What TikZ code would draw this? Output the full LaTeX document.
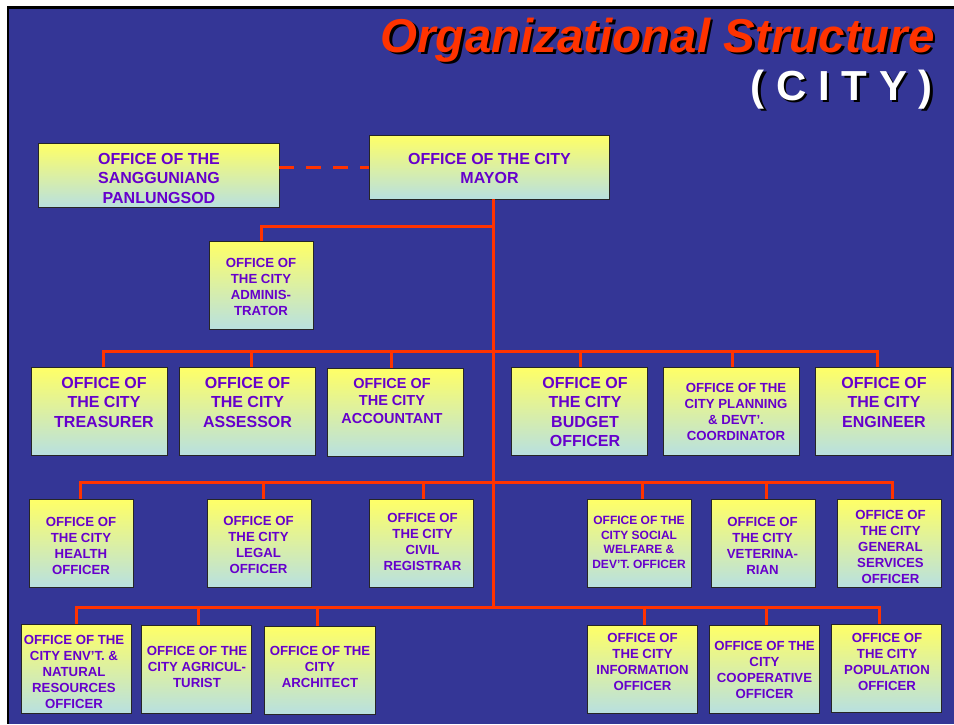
\documentclass[tikz,border=0pt]{standalone}
\usepackage{fontspec}
\setmainfont{Liberation Sans}
\definecolor{bgblue}{RGB}{52,54,150}
\definecolor{boxtop}{RGB}{255,255,102}
\definecolor{boxbot}{RGB}{184,224,224}
\definecolor{txt}{RGB}{102,0,204}
\definecolor{lin}{RGB}{255,51,0}
\definecolor{titlered}{RGB}{255,51,0}
\newcommand{\shadowed}[2]{\makebox[0pt][l]{\hspace*{#1}\raisebox{-#1}{\color{black}#2}}#2}
\tikzset{
  obox/.style={rectangle, draw=black!85, line width=0.8pt, top color=boxtop, bottom color=boxbot, inner sep=0pt},
  otext/.style={text=txt, align=center, inner sep=0pt, anchor=north},
  tA/.style={otext, font=\fontsize{16}{19.5}\selectfont\bfseries},
  tB/.style={otext, font=\fontsize{13.2}{16}\selectfont\bfseries},
  tC/.style={otext, font=\fontsize{14.5}{17.5}\selectfont\bfseries},
  tD/.style={otext, font=\fontsize{12}{14.7}\selectfont\bfseries},
  conn/.style={draw=lin, line width=3pt, line join=miter},
}
\newcommand{\obx}[5]{\node[obox, minimum width=#4pt, minimum height=#5pt] (#1) at (#2,#3) {};}
\begin{document}
\begin{tikzpicture}[x=1pt,y=-1pt]
\useasboundingbox (0,0) rectangle (954,724);
\fill[white] (0,0) rectangle (954,724);
\fill[black] (7,6) rectangle (954,724);
\fill[bgblue] (9,9) rectangle (954,724);

% title
\node[anchor=base east, inner sep=0pt, text=titlered, font=\fontsize{47.5}{50}\selectfont\bfseries\itshape] (title) at (935,52) {\shadowed{2.5pt}{Organizational Structure}};
\node[anchor=base east, inner sep=0pt, text=white, font=\fontsize{42}{44}\selectfont\bfseries] (city) at (933,100) {\shadowed{2.5pt}{( C I T Y )}};

% boxes
\obx{sang}{158.5}{175}{241}{64}
\obx{mayor}{489}{167}{240}{64}
\obx{admin}{261}{285}{104}{88}
\obx{treas}{99}{411}{136}{88}
\obx{assess}{247}{411}{136}{88}
\obx{acct}{395}{412}{136}{88}
\obx{budget}{579}{411}{136}{88}
\obx{plan}{731}{411}{136}{88}
\obx{eng}{883}{411}{136}{88}
\obx{health}{81}{543}{104}{88}
\obx{legal}{259}{543}{104}{88}
\obx{civil}{421}{543}{104}{88}
\obx{social}{639}{543}{104}{88}
\obx{vet}{763}{543}{104}{88}
\obx{gen}{889}{543}{104}{88}
\obx{enr}{76}{668.5}{110}{89}
\obx{agri}{196}{669}{110}{88}
\obx{arch}{319.5}{670}{111}{88}
\obx{info}{642}{669}{110}{88}
\obx{coop}{764}{669}{110}{88}
\obx{pop}{886}{668}{110}{88}

% texts
\node[tA] (sangT) at (159,153) {OFFICE OF THE\\SANGGUNIANG\\PANLUNGSOD};
\node[tA] (mayorT) at (489.5,153) {OFFICE OF THE CITY\\MAYOR};
\node[tB] (adminT) at (261,258) {OFFICE OF\\THE CITY\\ADMINIS-\\TRATOR};
\node[tA] (treasT) at (104,377) {OFFICE OF\\THE CITY\\TREASURER};
\node[tA] (assessT) at (247.5,377) {OFFICE OF\\THE CITY\\ASSESSOR};
\node[tC] (acctT) at (392,378) {OFFICE OF\\THE CITY\\ACCOUNTANT};
\node[tA] (budgetT) at (585,377) {OFFICE OF\\THE CITY\\BUDGET\\OFFICER};
\node[tB] (planT) at (736,383) {OFFICE OF THE\\CITY PLANNING\\\& DEVT’.\\COORDINATOR};
\node[tA] (engT) at (884,377) {OFFICE OF\\THE CITY\\ENGINEER};
\node[tB] (healthT) at (81,517) {OFFICE OF\\THE CITY\\HEALTH\\OFFICER};
\node[tB] (legalT) at (258.5,516) {OFFICE OF\\THE CITY\\LEGAL\\OFFICER};
\node[tB] (civilT) at (422.5,513) {OFFICE OF\\THE CITY\\CIVIL\\REGISTRAR};
\node[tD] (socialT) at (639,516) {OFFICE OF THE\\CITY SOCIAL\\WELFARE \&\\DEV’T. OFFICER};
\node[tB] (vetT) at (762.5,517) {OFFICE OF\\THE CITY\\VETERINA-\\RIAN};
\node[tB] (genT) at (890.5,510) {OFFICE OF\\THE CITY\\GENERAL\\SERVICES\\OFFICER};
\node[tB] (enrT) at (74,635) {OFFICE OF THE\\CITY ENV’T. \&\\NATURAL\\RESOURCES\\OFFICER};
\node[tB] (agriT) at (197,646) {OFFICE OF THE\\CITY AGRICUL-\\TURIST};
\node[tB] (archT) at (320,646) {OFFICE OF THE\\CITY\\ARCHITECT};
\node[tB] (infoT) at (642.5,633) {OFFICE OF\\THE CITY\\INFORMATION\\OFFICER};
\node[tB] (coopT) at (764.5,641) {OFFICE OF THE\\CITY\\COOPERATIVE\\OFFICER};
\node[tB] (popT) at (887,633) {OFFICE OF\\THE CITY\\POPULATION\\OFFICER};

% spine junctions
\coordinate (j1) at (493,226);
\coordinate (j2) at (493,351);
\coordinate (j3) at (493,482);
\coordinate (j4) at (493,607);

% connectors
\draw[conn, dash pattern=on 15pt off 12pt] (sang.east |- mayor.west) -- (mayor.west);
\draw[conn] ([xshift=4pt]mayor.south) -- (j4);
\draw[conn] (j1) -| (admin.north);

\draw[conn] ([xshift=4pt]treas.north) |- (j2) -| ([xshift=-6pt]eng.north);
\draw[conn] ([xshift=4pt]assess.north) -- ([xshift=4pt]assess.north |- j2);
\draw[conn] ([xshift=-4pt]acct.north) -- ([xshift=-4pt]acct.north |- j2);
\draw[conn] ([xshift=1pt]budget.north) -- ([xshift=1pt]budget.north |- j2);
\draw[conn] ([xshift=1pt]plan.north) -- ([xshift=1pt]plan.north |- j2);

\draw[conn] ([xshift=-1pt]health.north) |- (j3) -| ([xshift=3pt]gen.north);
\draw[conn] ([xshift=4pt]legal.north) -- ([xshift=4pt]legal.north |- j3);
\draw[conn] ([xshift=2pt]civil.north) -- ([xshift=2pt]civil.north |- j3);
\draw[conn] ([xshift=3pt]social.north) -- ([xshift=3pt]social.north |- j3);
\draw[conn] ([xshift=3pt]vet.north) -- ([xshift=3pt]vet.north |- j3);

\draw[conn] (enr.north) |- (j4) -| ([xshift=-7pt]pop.north);
\draw[conn] ([xshift=2pt]agri.north) -- ([xshift=2pt]agri.north |- j4);
\draw[conn] ([xshift=-2.5pt]arch.north) -- ([xshift=-2.5pt]arch.north |- j4);
\draw[conn] ([xshift=2pt]info.north) -- ([xshift=2pt]info.north |- j4);
\draw[conn] ([xshift=2pt]coop.north) -- ([xshift=2pt]coop.north |- j4);
\end{tikzpicture}
\end{document}
